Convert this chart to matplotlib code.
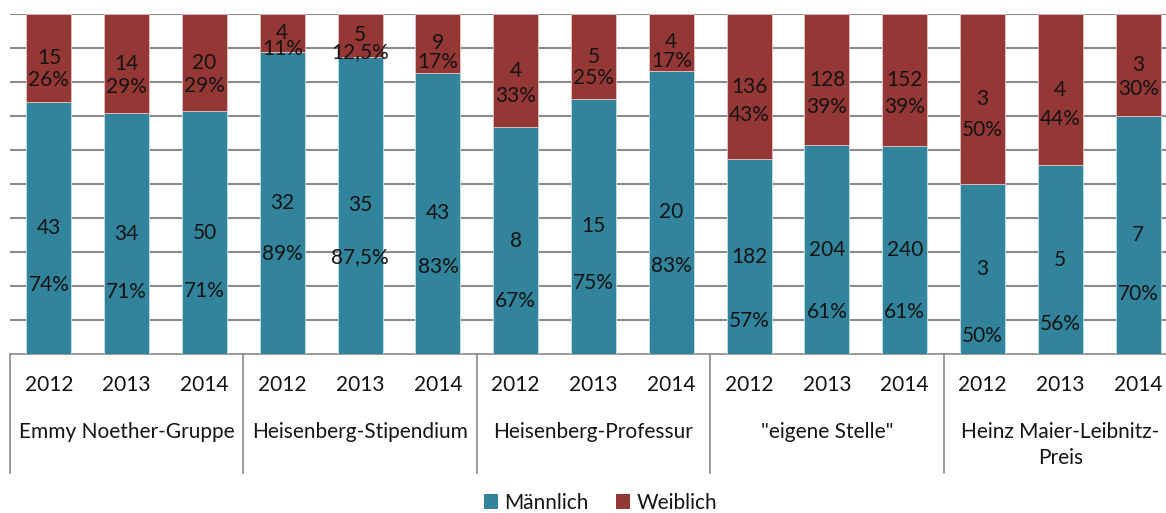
import matplotlib
matplotlib.use("Agg")
import matplotlib.pyplot as plt
from matplotlib.patches import Patch

plt.rcParams['font.family'] = ['Lato', 'DejaVu Sans']

groups = ["Emmy Noether-Gruppe", "Heisenberg-Stipendium", "Heisenberg-Professur",
          "\"eigene Stelle\"", "Heinz Maier-Leibnitz-\nPreis"]
years = ["2012", "2013", "2014"]
maennlich = [43, 34, 50, 32, 35, 43, 8, 15, 20, 182, 204, 240, 3, 5, 7]
weiblich = [15, 14, 20, 4, 5, 9, 4, 5, 4, 136, 128, 152, 3, 4, 3]

BLUE = "#31849B"
RED = "#953735"
GRID = "#8a8a8a"
TXT = "#141414"
FS = 15


def fmt_pct(v):
    p = 100.0 * v
    if abs(p - round(p)) > 1e-9 and abs(2 * p - round(2 * p)) < 1e-9:
        return ("%.1f%%" % p).replace(".", ",")
    return "%d%%" % round(p)


W, H = 1166, 513
fig = plt.figure(figsize=(W / 100, H / 100), dpi=100)
ax_left, ax_right, ax_top, ax_bot = 10, 1177, 14, 354
ax = fig.add_axes([ax_left / W, (H - ax_bot) / H, (ax_right - ax_left) / W, (ax_bot - ax_top) / H])

n = len(maennlich)
x = list(range(n))
tot = [m + w for m, w in zip(maennlich, weiblich)]
fm = [m / t for m, t in zip(maennlich, tot)]
fw = [w / t for w, t in zip(weiblich, tot)]

ax.bar(x, fm, width=0.58, color=BLUE, edgecolor="#c9dde3", linewidth=0.6, zorder=3)
ax.bar(x, fw, bottom=fm, width=0.58, color=RED, edgecolor="#e0c4c3", linewidth=0.6, zorder=3)

ax.set_xlim(-0.5, n - 0.5)
ax.set_ylim(0, 1)
ax.set_yticks([i / 10 for i in range(1, 11)])
ax.yaxis.grid(True, color=GRID, linewidth=1.5, zorder=0)
ax.tick_params(axis='y', length=0, labelleft=False)
ax.set_xticks([])
for s in ["left", "right", "top"]:
    ax.spines[s].set_visible(False)
ax.spines["bottom"].set_color(GRID)
ax.spines["bottom"].set_linewidth(1.2)

for i in x:
    # Männlich labels
    ax.text(i, fm[i] / 2, str(maennlich[i]), ha="center", va="center", fontsize=FS, color=TXT, zorder=4)
    ax.text(i, 0.62 * fm[i] - 0.257, fmt_pct(fm[i]), ha="center", va="center", fontsize=FS, color=TXT, zorder=4)
    # Weiblich labels
    ax.text(i, fm[i] + fw[i] / 2, str(weiblich[i]), ha="center", va="center", fontsize=FS, color=TXT, zorder=4)
    ax.text(i, 0.615 * fm[i] + 0.35, fmt_pct(fw[i]), ha="center", va="center", fontsize=FS, color=TXT, zorder=4)

trans = ax.get_xaxis_transform()
hpx = ax_bot - ax_top
for i in x:
    ax.text(i, -31 / hpx, years[i % 3], transform=trans, ha="center", va="center",
            fontsize=FS, color=TXT, clip_on=False)
for g, name in enumerate(groups):
    ax.text(3 * g + 1, -68 / hpx, name, transform=trans, ha="center", va="top",
            fontsize=FS, color=TXT, linespacing=1.35, clip_on=False)
for g in range(len(groups) + 1):
    ax.plot([3 * g - 0.5, 3 * g - 0.5], [0, -119 / hpx], transform=trans, color=GRID,
            linewidth=1.2, clip_on=False)

handles = [Patch(facecolor=BLUE, label="Männlich"), Patch(facecolor=RED, label="Weiblich")]
fig.legend(handles=handles, loc="center", bbox_to_anchor=(0.515, 10 / H), ncol=2, frameon=False,
           fontsize=FS, handlelength=0.7, handleheight=0.7, handletextpad=0.3, columnspacing=1.3,
           labelcolor=TXT, borderpad=0.1)

fig.savefig("out.png", dpi=100)
